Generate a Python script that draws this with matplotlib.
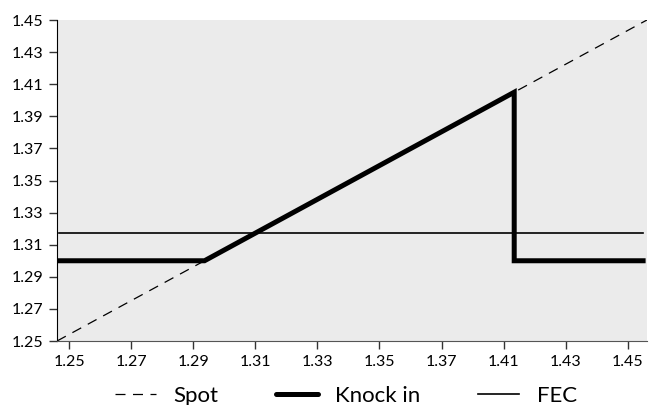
import numpy as np
import matplotlib.pyplot as plt

plt.rcParams['font.family'] = ['Lato', 'DejaVu Sans']

# spot diagonal
spot_x = [1.25, 1.45]
spot_y = [1.25, 1.45]

# knock in payoff
knock_x = [1.2507, 1.300, 1.405, 1.405, 1.4487]
knock_y = [1.300, 1.300, 1.405, 1.300, 1.300]

# forward (FEC)
fec_x = [1.2507, 1.4487]
fec_y = [1.3175, 1.3175]

xtick_pos = [1.2541, 1.2751, 1.2962, 1.3172, 1.3383, 1.3593, 1.3804, 1.4014, 1.4225, 1.4435]
xtick_labels = ['1.25', '1.27', '1.29', '1.31', '1.33', '1.35', '1.37', '1.41', '1.43', '1.45']
ytick_pos = [1.25, 1.27, 1.29, 1.31, 1.33, 1.35, 1.37, 1.39, 1.41, 1.43, 1.45]

fig = plt.figure(figsize=(6.54, 4.05), dpi=100)
ax = fig.add_axes([0.0872, 0.158, 0.902, 0.7926])
ax.set_facecolor('#ebebeb')

ax.plot(spot_x, spot_y, color='black', lw=0.9, dashes=(8, 6), label='Spot')
ax.plot(knock_x, knock_y, color='black', lw=3.6, solid_joinstyle='miter', label='Knock in')
ax.plot(fec_x, fec_y, color='black', lw=1.2, label='FEC')

ax.set_xlim(1.25, 1.45)
ax.set_ylim(1.25, 1.45)
ax.set_xticks(xtick_pos)
ax.set_xticklabels(xtick_labels)
ax.set_yticks(ytick_pos)
ax.set_yticklabels(['%.2f' % v for v in ytick_pos])

for s in ['top', 'right']:
    ax.spines[s].set_visible(False)
ax.spines['left'].set_color('black')
ax.spines['bottom'].set_color('#555555')
ax.tick_params(axis='both', length=6, width=1, color='#333333', labelsize=11.5, pad=4)

leg = ax.legend(loc='center', bbox_to_anchor=(0.49, -0.172), ncol=3, frameon=False,
                fontsize=16, handlelength=1.85, columnspacing=2.6, handletextpad=0.8,
                borderpad=0, borderaxespad=0)
leg.get_lines()[1].set_solid_capstyle('round')

fig.savefig('out.png', dpi=100)
